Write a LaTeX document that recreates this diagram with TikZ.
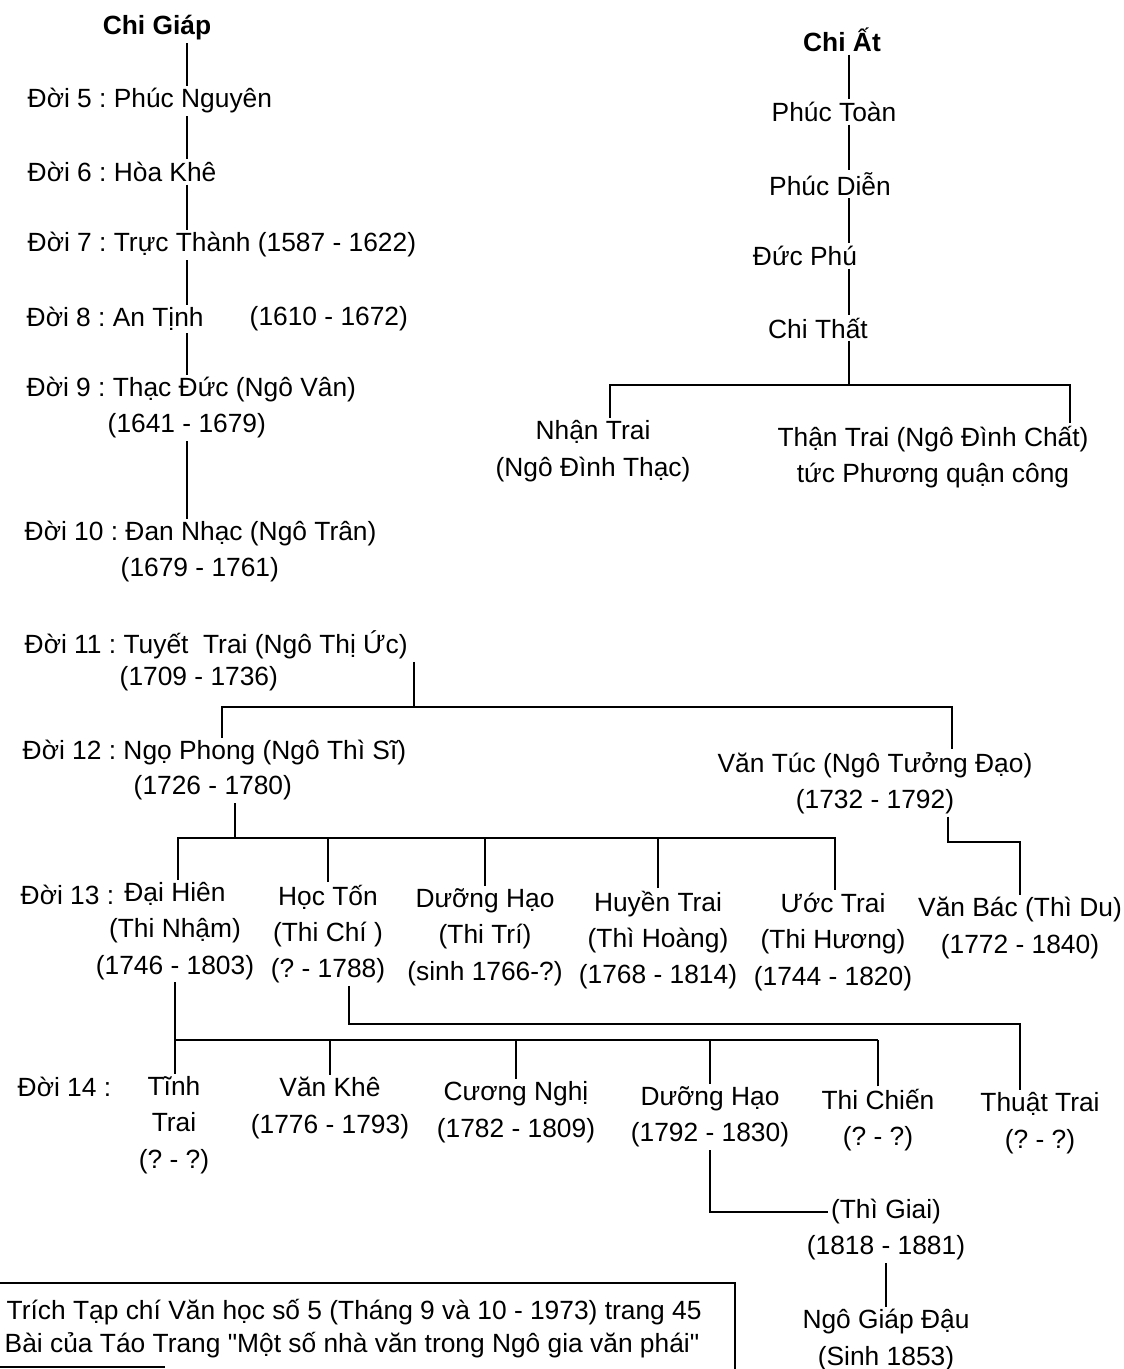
\documentclass[tikz,border=0pt]{standalone}
\usepackage{fontspec}
\setmainfont{Liberation Sans}
\tikzset{
    every node/.style={font=\fontsize{15}{20.7}\selectfont, inner sep=1pt},
    gen/.style={anchor=west},
    kid/.style={align=center},
    head/.style={font=\fontsize{15}{18}\selectfont\bfseries},
}
\frenchspacing
\begin{document}
\begin{tikzpicture}[x=0.02cm,y=-0.02cm,line width=1.1pt]
\useasboundingbox (0,0) rectangle (1123,1369);
% Chi Giap
\node[head] (giap) at (157,28) {Chi Giáp};
\node[gen] (d5) at (25,101) {Đời 5 : Phúc Nguyên};
\node[gen] (d6) at (25,172) {Đời 6 : Hòa Khê};
\node[gen] (d7) at (25,245) {Đời 7 : Trực Thành (1587 - 1622)};
\node[gen] (d8) at (24,319) {Đời 8 : An Tịnh};
\node[gen] (d8y) at (247,319) {(1610 - 1672)};
\node[gen] (d9) at (24,390) {Đời 9 : Thạc Đức (Ngô Vân)};
\node[gen] (d9y) at (105,426) {(1641 - 1679)};
\node[gen] (d10) at (22,534) {Đời 10 : Đan Nhạc (Ngô Trân)};
\node[gen] (d10y) at (118,570) {(1679 - 1761)};
\node[gen] (d11) at (22,645) {Đời 11 : Tuyết~ Trai (Ngô Thị Ức)};
\node[gen] (d11y) at (117,679) {(1709 - 1736)};
\node[gen] (d12) at (20,753) {Đời 12 : Ngọ Phong (Ngô Thì Sĩ)};
\node[gen] (d12y) at (131,788) {(1726 - 1780)};
\node[gen] (d13) at (18,895) {Đời 13 :};
\node[gen] (d14) at (15,1087) {Đời 14 :};
\coordinate (tg) at (187,0);
\draw (giap.south -| tg) -- (d5.north -| tg);
\foreach \a/\b in {d5/d6, d6/d7, d7/d8, d8/d9, d9y/d10}
    \draw (\a.south -| tg) -- (\b.north -| tg);
% Chi At
\node[head] (at) at (842,40) {Chi Ất};
\node (phuctoan) at (834,112) {Phúc Toàn};
\node (phucdien) at (830,184) {Phúc Diễn};
\node (ducphu) at (805,256) {Đức Phú};
\node (chithat) at (818,328) {Chi Thất};
\node[kid] (nhantrai) at (593,451) {Nhận Trai\\(Ngô Đình Thạc)};
\node[kid] (thantrai) at (933,457) {Thận Trai (Ngô Đình Chất)\\tức Phương quận công};
\coordinate (ta) at (849,0);
\foreach \a/\b in {at/phuctoan, phuctoan/phucdien, phucdien/ducphu, ducphu/chithat}
    \draw (\a.south -| ta) -- (\b.north -| ta);
\coordinate (ba) at (849,385);
\coordinate (bal) at (610,385);
\coordinate (bar) at (1070,385);
\draw (chithat.south -| ta) -- (ba);
\draw (bal |- nhantrai.north) -- (bal) -- (bar) -- (bar |- thantrai.north);
% doi 11 -> 12
\node[kid] (vantuc) at (875,783) {Văn Túc (Ngô Tưởng Đạo)\\(1732 - 1792)};
\coordinate (b11) at (414,707);
\coordinate (b11l) at (222,707);
\coordinate (b11r) at (952,707);
\draw (d11.south -| b11) -- (b11);
\draw (b11l |- d12.north) -- (b11l) -- (b11r) -- (b11r |- vantuc.north);
% doi 13
\node[kid] (daihien) at (175,931) {Đại Hiên\\(Thi Nhậm)\\(1746 - 1803)};
\node[kid] (hocton) at (328,934) {Học Tốn\\(Thi Chí )\\(? - 1788)};
\node[kid] (duonghao) at (485,937) {Dưỡng Hạo\\(Thi Trí)\\(sinh 1766-?)};
\node[kid] (huyentrai) at (658,940) {Huyền Trai\\(Thì Hoàng)\\(1768 - 1814)};
\node[kid] (uoctrai) at (833,942) {Ước Trai\\(Thi Hương)\\(1744 - 1820)};
\node[kid] (vanbac) at (1020,928) {Văn Bác (Thì Du)\\(1772 - 1840)};
\coordinate (b12) at (235,838);
\coordinate (b12l) at (178,838);
\coordinate (b12r) at (835,838);
\draw (d12y.south -| b12) -- (b12);
\draw (b12l |- daihien.north) -- (b12l) -- (b12r) -- (b12r |- uoctrai.north);
\foreach \n in {hocton, duonghao, huyentrai}
    \draw (\n.north) -- (\n.north |- b12);
\coordinate (vt) at (948,842);
\draw (vantuc.south -| vt) -- (vt) -| (vanbac.north);
% doi 14
\node[kid] (tinh) at (174,1125) {Tĩnh\\Trai\\(? - ?)};
\node[kid] (vankhe) at (330,1108) {Văn Khê\\(1776 - 1793)};
\node[kid] (cuongnghi) at (516,1112) {Cương Nghị\\(1782 - 1809)};
\node[kid] (duonghaob) at (710,1117) {Dưỡng Hạo\\(1792 - 1830)};
\node[kid] (thichien) at (878,1120) {Thi Chiến\\(? - ?)};
\node[kid] (thuattrai) at (1040,1123) {Thuật Trai\\(? - ?)};
\coordinate (b14) at (175,1040);
\draw (daihien.south -| b14) -- (tinh.north -| b14);
\draw (b14) -- (thichien.north |- b14);
\foreach \n in {vankhe, cuongnghi, duonghaob, thichien}
    \draw (\n.north) -- (\n.north |- b14);
\coordinate (ht) at (349,1024);
\coordinate (htr) at (1020,1024);
\draw (hocton.south -| ht) -- (ht) -- (htr) -- (htr |- thuattrai.north);
% doi 15, 16
\node (thigiai) at (886,1212) {(Thì Giai)};
\node (thigiaiy) at (886,1248) {(1818 - 1881)};
\node[kid] (giapdau) at (886,1340) {Ngô Giáp Đậu\\(Sinh 1853)};
\draw (duonghaob.south) |- (thigiai.west);
\draw (thigiaiy.south) -- (giapdau.north);
% nguon
\draw (0,1283) -- (735,1283) -- (735,1369);
\draw (0,1367) -- (165,1367);
\node[gen] (src1) at (4,1312) {Trích Tạp chí Văn học số 5 (Tháng 9 và 10 - 1973) trang 45};
\node[gen] (src2) at (2,1345) {Bài của Táo Trang \textquotedbl Một số nhà văn trong Ngô gia văn phái\textquotedbl};
\end{tikzpicture}
\end{document}
